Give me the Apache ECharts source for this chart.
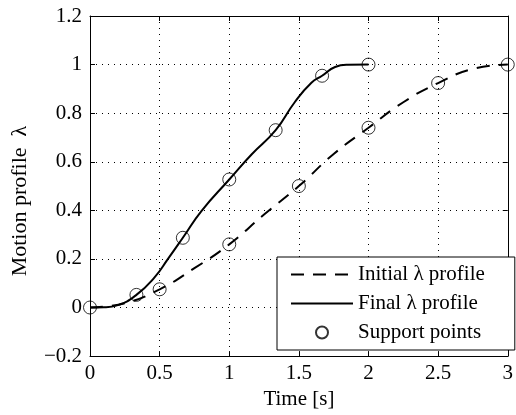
<!DOCTYPE html>
<html>
<head>
<meta charset="utf-8">
<script src="https://cdn.jsdelivr.net/npm/echarts@6/dist/echarts.min.js"></script>
<style>
  html, body { margin: 0; padding: 0; background: #fff; }
  #chart { width: 516px; height: 415px; }
</style>
</head>
<body>
<div id="chart"></div>
<script>
// Initial motion profile (dashed curve), time in seconds
const initialTime = [0, 0.25, 0.5, 0.75, 1, 1.25, 1.5, 1.75, 2, 2.25, 2.5, 2.75, 3];
const initialLambda = [0, 0.018, 0.075, 0.162, 0.26, 0.383, 0.5, 0.632, 0.74, 0.845, 0.924, 0.982, 1.0];

// Final (optimised) motion profile (solid curve)
const finalTime = [0, 0.1, 0.2, 0.3333, 0.465, 0.56, 0.6667, 0.8, 1, 1.16, 1.3333, 1.47, 1.59, 1.6667, 1.76, 1.85, 2];
const finalLambda = [0, 0.001, 0.01, 0.052, 0.125, 0.2, 0.287, 0.397, 0.527, 0.63, 0.73, 0.845, 0.925, 0.954, 0.99, 0.999, 1.0];

// Support points of both profiles
const supportTime = [0, 0.5, 1, 1.5, 2, 2.5, 3, 0.3333, 0.6667, 1, 1.3333, 1.6667, 2];
const supportLambda = [0, 0.075, 0.26, 0.5, 0.74, 0.924, 1.0, 0.052, 0.287, 0.527, 0.73, 0.954, 1.0];

// Axis settings
const xRange = [0, 3], xStep = 0.5;
const yRange = [-0.2, 1.2], yStep = 0.2;

const zip = (xs, ys) => xs.map((x, i) => [x, ys[i]]);
const FONT = 'Liberation Serif';
const fmt = v => String(+v.toFixed(2)).replace('-', '\u2212');

const chart = echarts.init(document.getElementById('chart'), null, { renderer: 'canvas' });

const tickCommon = { show: true, inside: true, length: 5, lineStyle: { color: '#000', width: 1 } };
const frameLine = { show: true, onZero: false, lineStyle: { color: '#000', width: 1 } };
const noMarker = { color: 'rgba(0,0,0,0)', borderWidth: 0 };

chart.setOption({
  animation: false,
  backgroundColor: '#fff',
  grid: { left: 90, right: 8, top: 16, bottom: 58, containLabel: false },
  xAxis: [{
    type: 'value', min: xRange[0], max: xRange[1], interval: xStep,
    name: 'Time [s]', nameLocation: 'middle', nameGap: 23,
    nameTextStyle: { fontFamily: FONT, fontSize: 21, color: '#000' },
    axisLine: frameLine,
    axisTick: tickCommon,
    axisLabel: { fontFamily: FONT, fontSize: 21, color: '#000', margin: 7, formatter: fmt },
    splitLine: { show: true, lineStyle: { color: '#000', width: 1, type: [1, 5] } }
  }, {
    type: 'value', position: 'top', min: xRange[0], max: xRange[1], interval: xStep,
    axisLine: frameLine,
    axisTick: tickCommon, axisLabel: { show: false }, splitLine: { show: false }
  }],
  yAxis: [{
    type: 'value', min: yRange[0], max: yRange[1], interval: yStep,
    name: 'Motion profile  \u03bb', nameLocation: 'middle', nameGap: 59,
    nameTextStyle: { fontFamily: FONT, fontSize: 22, color: '#000', padding: [0, 30, 0, 0] },
    axisLine: frameLine,
    axisTick: tickCommon,
    axisLabel: { fontFamily: FONT, fontSize: 21, color: '#000', margin: 8, formatter: fmt },
    splitLine: { show: true, lineStyle: { color: '#000', width: 1, type: [1, 5] } }
  }, {
    type: 'value', position: 'right', min: yRange[0], max: yRange[1], interval: yStep,
    axisLine: frameLine,
    axisTick: tickCommon, axisLabel: { show: false }, splitLine: { show: false }
  }],
  legend: {
    orient: 'vertical', left: 277, top: 257,
    itemWidth: 62, itemHeight: 12, itemGap: 8,
    padding: [7, 30, 7, 13],
    backgroundColor: '#fff', borderColor: '#000', borderWidth: 1, borderRadius: 0,
    selectedMode: false,
    textStyle: { fontFamily: FONT, fontSize: 21, color: '#000' },
    data: [
      { name: 'Initial \u03bb profile', itemStyle: noMarker },
      { name: 'Final \u03bb profile', itemStyle: noMarker },
      { name: 'Support points' }
    ]
  },
  series: [{
    name: 'Initial \u03bb profile', type: 'line',
    data: zip(initialTime, initialLambda),
    smooth: 0.5, symbol: 'none',
    lineStyle: { color: '#000', width: 2, type: [13, 9] },
    itemStyle: { color: '#000' }, z: 2
  }, {
    name: 'Final \u03bb profile', type: 'line',
    data: zip(finalTime, finalLambda),
    smooth: 0.5, symbol: 'none',
    lineStyle: { color: '#000', width: 2 },
    itemStyle: { color: '#000' }, z: 3
  }, {
    name: 'Support points', type: 'scatter',
    data: zip(supportTime, supportLambda),
    symbol: 'circle', symbolSize: 13,
    itemStyle: { color: 'rgba(0,0,0,0)', borderColor: '#000', borderWidth: 1 },
    z: 4
  }]
});
</script>
</body>
</html>
